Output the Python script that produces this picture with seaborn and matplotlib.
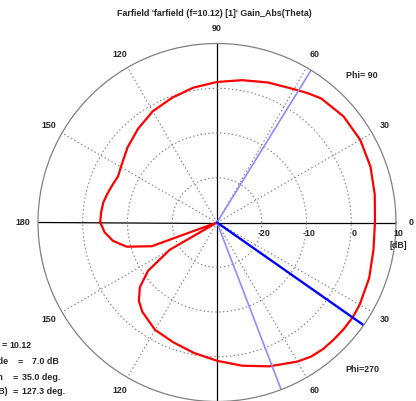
import numpy as np
import matplotlib
matplotlib.use("Agg")
import matplotlib.pyplot as plt
import seaborn as sns

# Gain pattern (dB) versus plotted angle: positive angles are the Phi=90 cut,
# negative angles the Phi=270 cut (theta measured from the +x direction).
angle_deg = [-180, -175, -170, -165, -160, -155, -150, -145, -140, -135, -130,
             -120, -110, -100, -90, -80, -70, -60, -55, -50, -45, -40, -35,
             -30, -20, -10, 0, 10, 20, 30, 40, 50, 55, 60, 70, 80, 90, 100,
             110, 120, 130, 140, 150, 155, 160, 165, 170, 175, 180]
gain_db = [-3.9, -4.8, -6.4, -9.1, -14.5, -30.0, -17.8, -11.2, -7.5, -5.3, -4.0,
           -2.3, -1.5, -0.4, 0.9, 2.5, 4.2, 5.9, 6.6, 6.9, 6.95, 7.0, 7.0,
           6.8, 6.2, 5.5, 5.3, 5.8, 6.5, 6.95, 6.9, 6.2, 5.3, 4.4, 3.3, 2.3, 1.4, 0.6,
           -0.4, -1.3, -2.6, -3.9, -5.2, -5.6, -5.2, -4.7, -4.2, -4.0, -3.9]

main_lobe_deg = -35.0
beam_edges_deg = [58.3, -69.0]

theta_ticks = [0, 30, 60, 90, 120, 150, 180, 210, 240, 270, 300, 330]
theta_labels = ["0", "30", "60", "90", "120", "150", "180", "150", "120", "90", "60", "30"]
ring_values = [-20, -10, 0, 10]
r_min, r_max = -30, 10

title = "Farfield 'farfield (f=10.12) [1]' Gain_Abs(Theta)"
info_keys = ["Frequency", "Main lobe magnitude", "Main lobe direction", "Angular width (3 dB)"]
info_vals = ["10.12", "7.0 dB", "35.0 deg.", "127.3 deg."]

sns.set_style("white")
plt.rcParams["font.family"] = ["Liberation Sans", "DejaVu Sans"]
plt.rcParams["font.weight"] = "bold"
FS = 6.4

W, H = 416, 401
fig = plt.figure(figsize=(W / 100, H / 100), dpi=100)
cx, cy, R = 217.0, 222.5, 179.0
ax = fig.add_axes([(cx - R) / W, (H - cy - R) / H, 2 * R / W, 2 * R / H], projection="polar")
ax.set_facecolor("white")
ax.set_ylim(r_min, r_max)

# grid: solid axes on 0/90/180/270, dotted spokes elsewhere
ax.set_thetagrids(theta_ticks, labels=theta_labels, fontsize=FS, fontweight="bold")
ax.set_rgrids(ring_values[:-1], labels=[""] * 3)
for ang, gl in zip(theta_ticks, ax.xaxis.get_gridlines()):
    if ang % 90 == 0:
        gl.set(color="black", linestyle="-", linewidth=0.9)
    else:
        gl.set(color="#808080", linestyle=(0, (1.3, 2.2)), linewidth=0.8)
for gl in ax.yaxis.get_gridlines():
    gl.set(color="#808080", linestyle=(0, (1.3, 2.2)), linewidth=0.8)
ax.grid(True)
ax.tick_params(axis="x", pad=4, length=0)
ax.spines["polar"].set(color="#808080", linewidth=0.9)

th = np.deg2rad(angle_deg)
g = np.clip(gain_db, r_min, r_max)
sns.lineplot(x=th, y=g, ax=ax, sort=False, color="#ff0000", linewidth=1.6, estimator=None)

for e in beam_edges_deg:
    sns.lineplot(x=np.deg2rad([e, e]), y=[r_min, r_max], ax=ax, sort=False,
                 color="#8c8cff", linewidth=1.2, estimator=None)
sns.lineplot(x=np.deg2rad([main_lobe_deg, main_lobe_deg]), y=[r_min, r_max], ax=ax,
             sort=False, color="#0000ff", linewidth=1.7, estimator=None)
ax.set_xlabel("")
ax.set_ylabel("")

# radial scale labels under the horizontal axis
for v in ring_values:
    ax.annotate(str(v), xy=(0, v), xytext=(2, -5), textcoords="offset points",
                ha="center", va="top", fontsize=FS, fontweight="bold")
ax.annotate("[dB]", xy=(0, r_max), xytext=(2, -13), textcoords="offset points",
            ha="center", va="top", fontsize=FS, fontweight="bold")

def px(x, y):
    return x / W, 1 - y / H

fig.text(*px(214, 13), title, ha="center", va="center", fontsize=FS, fontweight="bold")
fig.text(*px(362, 75), "Phi= 90", ha="center", va="center", fontsize=FS, fontweight="bold")
fig.text(*px(362, 369), "Phi=270", ha="center", va="center", fontsize=FS, fontweight="bold")

# result summary block in the lower left corner
key_right = [-1.0, 8.3, 2.7, 7.3]
eq_center = [4.2, 20.5, 15.5, 15.5]
val_left = [9.3, 31.7, 21.7, 21.7]
rows_y = [345, 361.5, 377.2, 391.7]
for k, v, xr, xe, xl, yy in zip(info_keys, info_vals, key_right, eq_center, val_left, rows_y):
    fig.text(*px(xr, yy), k, ha="right", va="center", fontsize=FS, fontweight="bold")
    fig.text(*px(xe, yy), "=", ha="center", va="center", fontsize=FS, fontweight="bold")
    fig.text(*px(xl, yy), v, ha="left", va="center", fontsize=FS, fontweight="bold")

fig.savefig("out.png", dpi=100, facecolor="white")
